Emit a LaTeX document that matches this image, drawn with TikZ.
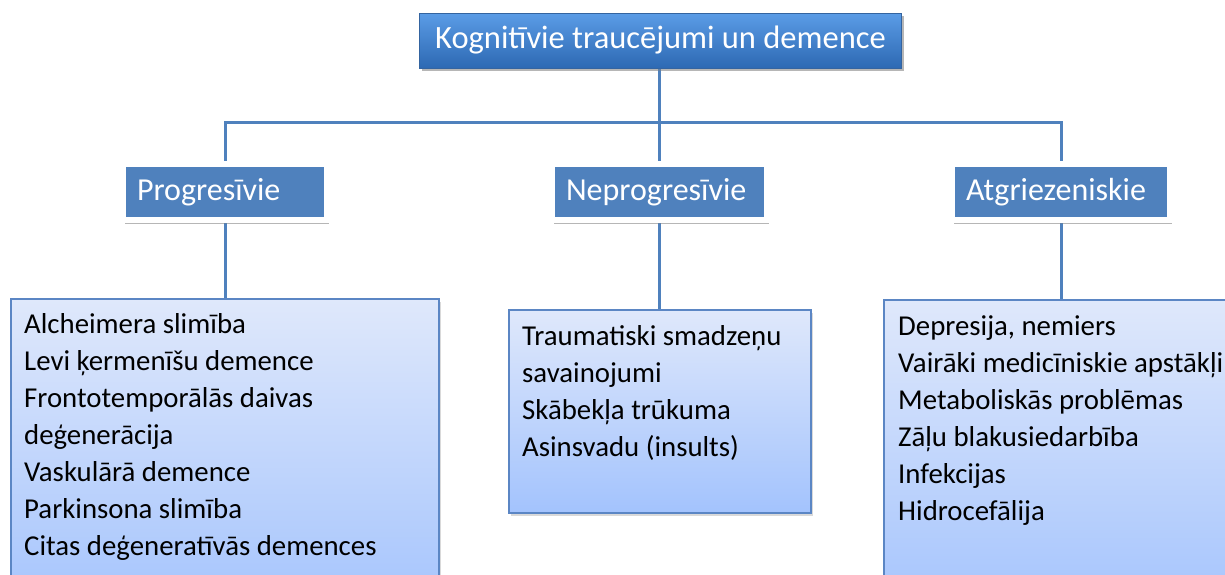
\documentclass[tikz,border=0pt]{standalone}
\usepackage{fontspec}
\setmainfont{Carlito}
\usetikzlibrary{shadows}
\definecolor{lineblue}{HTML}{4F81BD}
\definecolor{midblue}{HTML}{4F81BD}
\definecolor{toptop}{HTML}{5B9CE6}
\definecolor{topbot}{HTML}{2D69B3}
\definecolor{topedge}{HTML}{3464A0}
\definecolor{boxtop}{HTML}{DFE8FB}
\definecolor{boxbot}{HTML}{A3C3FD}
\definecolor{boxedge}{HTML}{5B86C4}
\tikzset{
  conn/.style={draw=lineblue, line width=3pt},
  topbox/.style={draw=topedge, line width=1pt, top color=toptop, bottom color=topbot,
    minimum width=482pt, minimum height=55pt, inner sep=0pt, text=white,
    font=\fontsize{32.5}{38}\selectfont,
    drop shadow={opacity=0.35, shadow xshift=2pt, shadow yshift=-3pt}},
  midbox/.style={draw=white, line width=6pt, fill=midblue, text=white,
    minimum height=55.5pt, inner xsep=14pt, inner ysep=0pt, align=left,
    font=\fontsize{32}{36}\selectfont,
    drop shadow={opacity=0.35, shadow xshift=2pt, shadow yshift=-4pt}},
  listbox/.style={draw=boxedge, line width=2pt, top color=boxtop, bottom color=boxbot,
    drop shadow={opacity=0.3, shadow xshift=2pt, shadow yshift=-3pt}},
  listtext/.style={anchor=base west, inner sep=0pt, text=black,
    font=\fontsize{28.8}{37}\selectfont}
}
\begin{document}
\begin{tikzpicture}[x=1pt,y=-1pt]
\useasboundingbox (0,0) rectangle (1225,574);
\clip (0,0) rectangle (1225,574);
% list boxes
\node[listbox, minimum width=428pt, minimum height=320pt, anchor=north west, inner sep=0pt] (pbox) at (10,298) {};
\node[listbox, minimum width=302pt, minimum height=203pt, anchor=north west, inner sep=0pt] (nbox) at (508,309) {};
\node[listbox, minimum width=360pt, minimum height=320pt, anchor=north west, inner sep=0pt] (abox) at (883,299) {};
% connectors
\coordinate (hub) at (659,122);
\node[topbox] (top) at (660.5,40.5) {Kognitīvie traucējumi un demence};
\node[midbox, text width=176pt] (p) at (225,191.75) {Progresīvie};
\node[midbox, text width=187pt] (n) at (659.5,191.75) {Neprogresīvie};
\node[midbox, text width=190pt] (a) at (1061,191.75) {Atgriezeniskie};
\draw[conn] (hub |- top.south) -- (hub);
\draw[conn] (p.north) |- (hub) -| (a.north);
\draw[conn] (hub) -- (hub |- n.north);
\draw[conn] (p.south) -- (pbox.north -| p.south);
\draw[conn] (hub |- n.south) -- (hub |- nbox.north);
\draw[conn] (a.south) -- (abox.north -| a.south);
% redraw boxes on top of connectors
\node[topbox] at (top) {Kognitīvie traucējumi un demence};
\node[midbox, text width=176pt] at (p) {Progresīvie};
\node[midbox, text width=187pt] at (n) {Neprogresīvie};
\node[midbox, text width=190pt] at (a) {Atgriezeniskie};
% texts
\node[listtext] (ptext) at (24,333) {\begin{tabular}[t]{@{}l@{}}Alcheimera slimība\\ Levi ķermenīšu demence\\ Frontotemporālās daivas\\ deģenerācija\\ Vaskulārā demence\\ Parkinsona slimība\\ Citas deģeneratīvās demences\end{tabular}};
\node[listtext] (ntext) at (522,345) {\begin{tabular}[t]{@{}l@{}}Traumatiski smadzeņu\\ savainojumi\\ Skābekļa trūkuma\\ Asinsvadu (insults)\end{tabular}};
\node[listtext] (atext) at (898,335) {\begin{tabular}[t]{@{}l@{}}Depresija, nemiers\\ Vairāki medicīniskie apstākļi\\ Metaboliskās problēmas\\ Zāļu blakusiedarbība\\ Infekcijas\\ Hidrocefālija\end{tabular}};
\end{tikzpicture}
\end{document}
